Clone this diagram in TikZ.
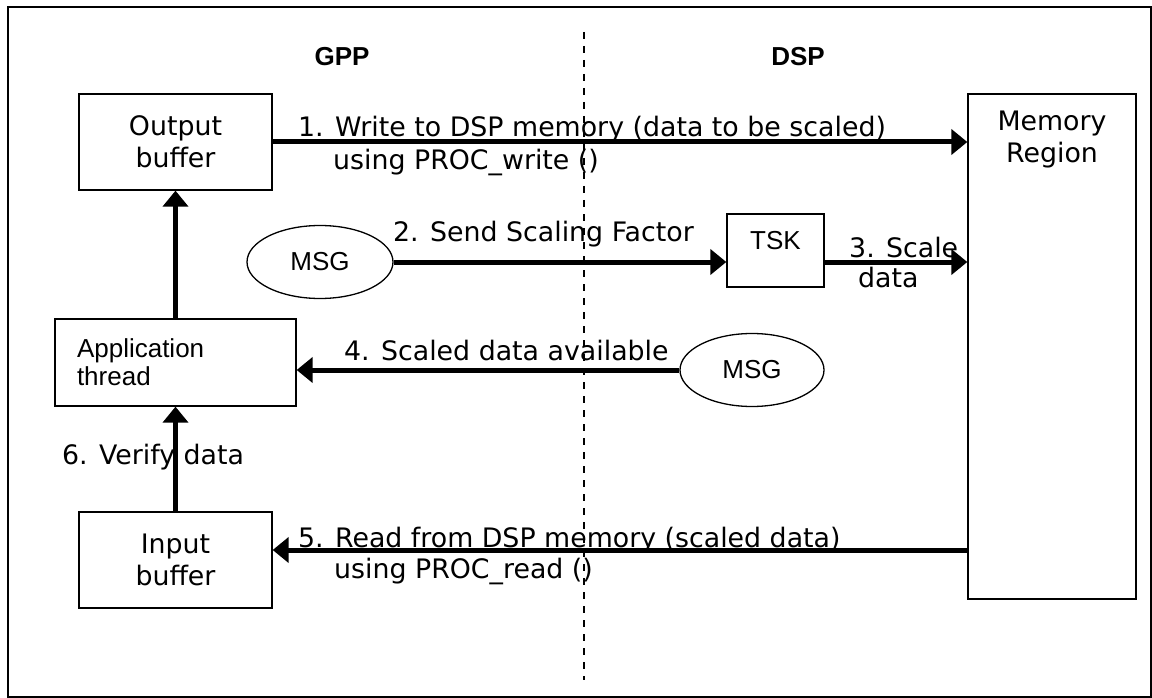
\documentclass[tikz,border=0pt]{standalone}
\usepackage{fontspec}
\setmainfont{DejaVu Sans}
\newfontfamily\arial{Liberation Sans}
\usetikzlibrary{arrows.meta,shapes.geometric}

\tikzset{
  box/.style={draw, line width=1.3pt, align=center, inner sep=0pt},
  oval/.style={draw, ellipse, line width=1.3pt, inner sep=0pt, font=\arial\fontsize{26}{30}\selectfont},
  flow/.style={line width=5pt, -{Triangle[length=16pt,width=25pt]}},
  lbl/.style={anchor=base west, inner sep=0pt},
  side/.style={font=\arial\bfseries\fontsize{26}{30}\selectfont}
}

\begin{document}
\begin{tikzpicture}[x=1pt, y=-1pt, font=\fontsize{26.8}{32}\selectfont]
        \useasboundingbox (0,0) rectangle (1152,698);
        \draw [line width=2pt] (8,7) rectangle (1151,697);
        \node [side] (gpp) at (342,57) {GPP};
        \node [side] (dsp) at (798,57) {DSP};
        \coordinate (d-top) at (584,32);
        \coordinate (d-bot) at (584,680);
        \draw [line width=1.8pt, dash pattern=on 7pt off 7pt] (d-top) -- (d-bot);
        \node [box, minimum width=193pt, minimum height=96pt] (out) at (175.5,142) {Output\\buffer};
        \node [box, minimum width=168pt, minimum height=505pt] (mem) at (1052,346.5) {};
        \node [align=center, inner sep=0pt] (mem-t) at (1052,140) {Memory\\Region};
        \node [oval, minimum width=146pt, minimum height=73pt] (msga) at (320,262) {MSG};
        \node [box, minimum width=97pt, minimum height=73pt, font=\arial\fontsize{26}{30}\selectfont] (tsk) at (775.5,250.5) {\raisebox{20pt}{TSK}};
        \node [box, minimum width=241pt, minimum height=87pt, text width=197pt, align=left, font=\arial\fontsize{26}{28}\selectfont] (app) at (175.5,362.5) {Application\\thread};
        \node [oval, minimum width=144pt, minimum height=73pt] (msgb) at (752,370) {MSG};
        \node [box, minimum width=193pt, minimum height=96pt] (inb) at (175.5,560) {Input\\buffer};
        % step labels
        \node [lbl] (t1a) at (298,137) {1. Write to DSP memory (data to be scaled)};
        \node [lbl] (t1b) at (333,170) {using PROC\_write ()};
        \node [lbl] (t2) at (393,241) {2. Send Scaling Factor};
        \node [lbl] (t3a) at (849,257) {3. Scale};
        \node [lbl] (t3b) at (858,287) {data};
        \node [lbl] (t4) at (344,360) {4. Scaled data available};
        \node [lbl] (t5a) at (298,547) {5. Read from DSP memory (scaled data)};
        \node [lbl] (t5b) at (334,578) {using PROC\_read ()};
        \node [lbl] (t6) at (62,464) {6. Verify data};
        % arrows
        \coordinate (r5) at ([yshift=10pt]inb.east);
        \draw [flow] (out.east) -- (out.east -| mem.west);
        \draw [flow] (msga.east) -- (msga.east -| tsk.west);
        \draw [flow] (tsk.east |- msga.east) -- (msga.east -| mem.west);
        \draw [flow] (msgb.west) -- (msgb.west -| app.east);
        \draw [flow] (mem.west |- r5) -- (r5);
        \draw [flow] (inb.north) -- (app.south);
        \draw [flow] (app.north) -- (out.south);
    \end{tikzpicture}
\end{document}
